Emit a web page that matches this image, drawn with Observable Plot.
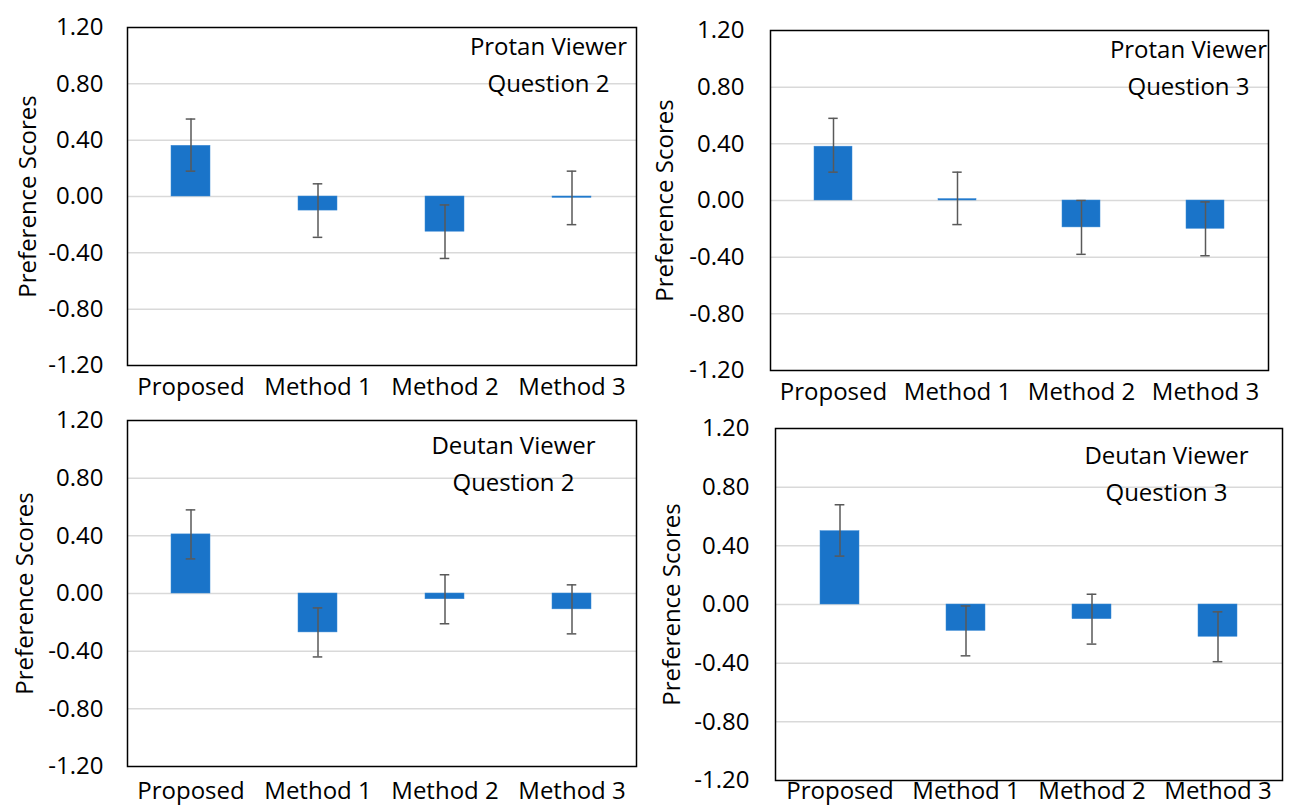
<!DOCTYPE html>
<html>
<head>
<meta charset="utf-8">
<script src="https://cdn.jsdelivr.net/npm/d3@7"></script>
<script src="https://cdn.jsdelivr.net/npm/@observablehq/plot@0.6"></script>
<style>
  html, body { margin: 0; padding: 0; background: #fff; }
  #root { position: relative; width: 1293px; height: 805px; overflow: hidden; }
  .panel { position: absolute; }
  .panel svg { font-family: "Open Sans", sans-serif; }
</style>
</head>
<body>
<div id="root"></div>
<script>
// ---- Data ----
const categories = ["Proposed", "Method 1", "Method 2", "Method 3"];
const yTicks = [-1.2, -0.8, -0.4, 0, 0.4, 0.8, 1.2];
const gridTicks = [-0.8, -0.4, 0, 0.4, 0.8];

const protanQ2Titles = ["Protan Viewer", "Question 2"];
const protanQ2Mean  = [0.36, -0.10, -0.25, -0.01];
const protanQ2Upper = [0.55, 0.09, -0.06, 0.18];
const protanQ2Lower = [0.18, -0.29, -0.44, -0.20];

const protanQ3Titles = ["Protan Viewer", "Question 3"];
const protanQ3Mean  = [0.38, 0.01, -0.19, -0.20];
const protanQ3Upper = [0.58, 0.20, 0.00, -0.01];
const protanQ3Lower = [0.20, -0.17, -0.38, -0.39];

const deutanQ2Titles = ["Deutan Viewer", "Question 2"];
const deutanQ2Mean  = [0.41, -0.27, -0.04, -0.11];
const deutanQ2Upper = [0.58, -0.10, 0.13, 0.06];
const deutanQ2Lower = [0.24, -0.44, -0.21, -0.28];

const deutanQ3Titles = ["Deutan Viewer", "Question 3"];
const deutanQ3Mean  = [0.50, -0.18, -0.10, -0.22];
const deutanQ3Upper = [0.68, -0.01, 0.07, -0.05];
const deutanQ3Lower = [0.33, -0.35, -0.27, -0.39];

const yLabel = "Preference Scores";

// ---- Layout (panel geometry) ----
const panels = [
  {titles: protanQ2Titles, mean: protanQ2Mean, upper: protanQ2Upper, lower: protanQ2Lower,
   left: 0, top: 0, width: 640, height: 400, ml: 127, mr: 4, mt: 27, mb: 35, xPad: 12, yPad: 24, labelX: 28, titleDx: -88, titleDy: 1},
  {titles: protanQ3Titles, mean: protanQ3Mean, upper: protanQ3Upper, lower: protanQ3Lower,
   left: 640, top: 0, width: 653, height: 405, ml: 130, mr: 25, mt: 30, mb: 35, xPad: 12, yPad: 26, labelX: 25, titleDx: -80, titleDy: 1},
  {titles: deutanQ2Titles, mean: deutanQ2Mean, upper: deutanQ2Upper, lower: deutanQ2Lower,
   left: 0, top: 400, width: 640, height: 405, ml: 127, mr: 4, mt: 20, mb: 39, xPad: 15, yPad: 24, labelX: 25, titleDx: -123, titleDy: 7},
  {titles: deutanQ3Titles, mean: deutanQ3Mean, upper: deutanQ3Upper, lower: deutanQ3Lower,
   left: 640, top: 405, width: 653, height: 400, ml: 135, mr: 11, mt: 23, mb: 25, xPad: 1, yPad: 26, labelX: 32, titleDx: -116, titleDy: 9}
];

const root = document.getElementById("root");
const barColor = "#1a74c9";
const errColor = "#595959";
const fs = 24;

for (const p of panels) {
  const rows = categories.map((c, i) => ({cat: c, v: p.mean[i], lo: p.lower[i], hi: p.upper[i]}));
  const band = (p.width - p.ml - p.mr) / categories.length * 0.31;
  const capInset = (band - 10) / 2;
  const chart = Plot.plot({
    width: p.width,
    height: p.height,
    marginLeft: p.ml, marginRight: p.mr, marginTop: p.mt, marginBottom: p.mb,
    style: {fontSize: fs + "px", color: "#000", background: "transparent", overflow: "visible"},
    x: {domain: categories, paddingInner: 0.69, paddingOuter: 0.345, label: null},
    y: {domain: [-1.2, 1.2], label: null},
    marks: [
      Plot.ruleY(gridTicks, {stroke: "#d9d9d9", strokeWidth: 1.5}),
      Plot.barY(rows, {x: "cat", y1: 0, y2: "v", fill: barColor, stroke: "#3b8ad6", strokeWidth: 0.5}),
      Plot.ruleX(rows, {x: "cat", y1: "lo", y2: "hi", stroke: errColor, strokeWidth: 1.5}),
      Plot.tickY(rows, {x: "cat", y: "lo", stroke: errColor, strokeWidth: 1.5, insetLeft: capInset, insetRight: capInset}),
      Plot.tickY(rows, {x: "cat", y: "hi", stroke: errColor, strokeWidth: 1.5, insetLeft: capInset, insetRight: capInset}),
      Plot.frame({stroke: "#000", strokeWidth: 1.5}),
      Plot.axisY({ticks: yTicks, tickSize: 0, tickPadding: p.yPad, tickFormat: d => d.toFixed(2), label: null, fontSize: fs}),
      Plot.axisX({tickSize: 0, tickPadding: p.xPad, label: null, fontSize: fs}),
      Plot.text([yLabel], {frameAnchor: "left", dx: -(p.ml - p.labelX), rotate: -90, textAnchor: "middle", fontSize: fs, fill: "#000"}),
      Plot.text([p.titles.join("\n")], {frameAnchor: "top-right", dx: p.titleDx, dy: p.titleDy, textAnchor: "middle", lineAnchor: "top", lineHeight: 1.55, fontSize: fs, fill: "#000"})
    ]
  });
  const div = document.createElement("div");
  div.className = "panel";
  div.style.left = p.left + "px";
  div.style.top = p.top + "px";
  div.appendChild(chart);
  root.appendChild(div);
}
</script>
</body>
</html>
